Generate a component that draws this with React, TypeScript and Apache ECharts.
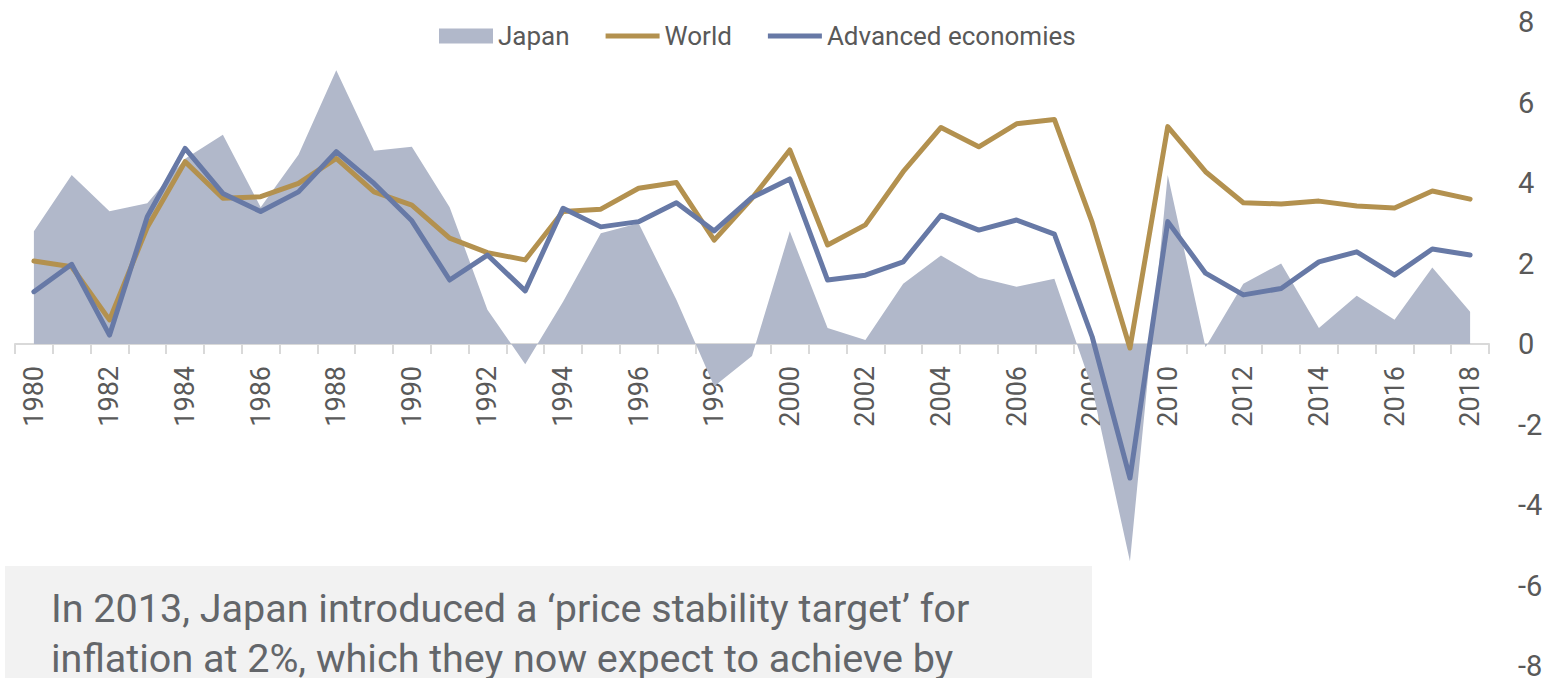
import React, { useEffect, useRef } from "react";
import * as echarts from "echarts";

const years = [
  "1980","1981","1982","1983","1984","1985","1986","1987","1988","1989",
  "1990","1991","1992","1993","1994","1995","1996","1997","1998","1999",
  "2000","2001","2002","2003","2004","2005","2006","2007","2008","2009",
  "2010","2011","2012","2013","2014","2015","2016","2017","2018",
];

const japan = [
  2.8, 4.2, 3.3, 3.5, 4.6, 5.2, 3.4, 4.7, 6.8, 4.8,
  4.9, 3.4, 0.85, -0.5, 1.05, 2.75, 3.0, 1.1, -1.05, -0.3,
  2.8, 0.4, 0.1, 1.5, 2.2, 1.65, 1.42, 1.62, -1.1, -5.4,
  4.2, -0.08, 1.5, 2.0, 0.4, 1.2, 0.6, 1.9, 0.8,
];

const world = [
  2.06, 1.92, 0.6, 2.9, 4.53, 3.62, 3.66, 3.99, 4.61, 3.78,
  3.45, 2.63, 2.27, 2.09, 3.29, 3.35, 3.87, 4.01, 2.58, 3.62,
  4.82, 2.46, 2.96, 4.28, 5.38, 4.9, 5.47, 5.58, 3.02, -0.1,
  5.4, 4.28, 3.51, 3.48, 3.55, 3.43, 3.38, 3.8, 3.6,
];

const advanced = [
  1.3, 1.98, 0.22, 3.16, 4.86, 3.74, 3.29, 3.78, 4.78, 3.99,
  3.06, 1.59, 2.21, 1.32, 3.37, 2.91, 3.04, 3.51, 2.81, 3.64,
  4.1, 1.59, 1.71, 2.04, 3.2, 2.83, 3.08, 2.73, 0.18, -3.33,
  3.04, 1.76, 1.22, 1.38, 2.04, 2.29, 1.71, 2.36, 2.21,
];

const yTicks = { min: -8, max: 8, interval: 2 };

const noteLines = [
  "In 2013, Japan introduced a \u2018price stability target\u2019 for",
  "inflation at 2%, which they now expect to achieve by",
];

const FONT = "Roboto, 'Noto Sans', sans-serif";
const LINE_ICON = "path://M0,0M0,5L54,5L54,10L0,10ZM54,15";

const GRID_TOP = 22;
const GRID_BOTTOM = 12;
const CHART_H = 678;
// distance (px) from grid bottom up to the zero line: half the plot height
const ZERO_OFFSET = (CHART_H - GRID_TOP - GRID_BOTTOM) / 2;

export default function App() {
  const ref = useRef<HTMLDivElement>(null);
  useEffect(() => {
    if (!ref.current) return;
    const chart = echarts.init(ref.current, undefined, { renderer: "svg" });
    chart.setOption({
      animation: false,
      backgroundColor: "#ffffff",
      grid: {
        left: 15,
        right: 64,
        top: GRID_TOP,
        bottom: GRID_BOTTOM,
        containLabel: false,
        outerBoundsMode: "none",
      },
      legend: {
        left: 434,
        top: 18,
        itemWidth: 54,
        itemHeight: 15,
        itemGap: 36,
        textStyle: { fontFamily: FONT, fontSize: 26, color: "#595959" },
        data: [
          { name: "Japan", icon: "rect" },
          { name: "World", icon: LINE_ICON },
          { name: "Advanced economies", icon: LINE_ICON },
        ],
      },
      xAxis: {
        type: "category",
        data: years,
        position: "bottom",
        offset: -ZERO_OFFSET,
        boundaryGap: true,
        axisLine: { onZero: false, lineStyle: { color: "#d9d9d9", width: 2 } },
        axisTick: { show: true, interval: 0, length: 10, lineStyle: { color: "#d9d9d9", width: 2 } },
        axisLabel: {
          interval: 1,
          rotate: 90,
          margin: 22,
          fontFamily: FONT,
          fontSize: 27,
          color: "#595959",
        },
        splitLine: { show: false },
        z: 2,
      },
      yAxis: {
        type: "value",
        position: "right",
        min: yTicks.min,
        max: yTicks.max,
        interval: yTicks.interval,
        axisLine: { show: false },
        axisTick: { show: false },
        splitLine: { show: false },
        axisLabel: { margin: 29, fontFamily: FONT, fontSize: 29, color: "#595959" },
      },
      series: [
        {
          name: "Japan",
          type: "line",
          data: japan,
          symbol: "none",
          lineStyle: { width: 0, color: "#b1b8ca" },
          itemStyle: { color: "#b1b8ca" },
          areaStyle: { color: "#b1b8ca", opacity: 1 },
          z: 4,
        },
        {
          name: "World",
          type: "line",
          data: world,
          symbol: "none",
          lineStyle: { width: 5, color: "#b3914f", cap: "round", join: "round" },
          itemStyle: { color: "#b3914f" },
          z: 6,
        },
        {
          name: "Advanced economies",
          type: "line",
          data: advanced,
          symbol: "none",
          lineStyle: { width: 5, color: "#6779a6", cap: "round", join: "round" },
          itemStyle: { color: "#6779a6" },
          z: 7,
        },
      ],
      graphic: [
        {
          type: "rect",
          left: 5,
          top: 566,
          shape: { width: 1087, height: 120 },
          style: { fill: "#f2f2f2" },
          z: 10,
        },
        {
          type: "text",
          x: 51,
          y: 608,
          style: {
            text: noteLines[0],
            font: `39.5px ${FONT}`,
            fill: "#63666a",
            verticalAlign: "middle",
          },
          z: 11,
        },
        {
          type: "text",
          x: 51,
          y: 658,
          style: {
            text: noteLines[1],
            font: `39.5px ${FONT}`,
            fill: "#63666a",
            verticalAlign: "middle",
          },
          z: 11,
        },
      ],
    });
    return () => chart.dispose();
  }, []);
  return (
    <div
      ref={ref}
      style={{ position: "absolute", left: 0, top: 0, width: 1553, height: 678 }}
    />
  );
}
